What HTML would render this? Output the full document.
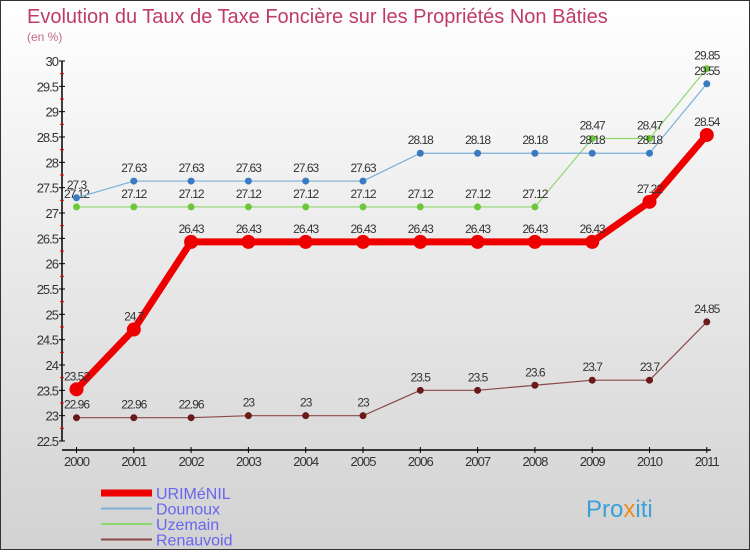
<!DOCTYPE html>
<html><head><meta charset="utf-8"><style>
body{margin:0;width:750px;height:550px;overflow:hidden;font-family:"Liberation Sans",sans-serif}
#wrap{position:relative;width:748px;height:548px;border:1px solid #333;background:linear-gradient(#ffffff,#d2d2d2)}
</style></head><body>
<div id="wrap">
<svg id="chart" width="748" height="548">
<text x="26" y="22" font-size="20" fill="#c03a6a" font-weight="300">Evolution du Taux de Taxe Foncière sur les Propriétés Non Bâties</text>
<text x="26" y="40" font-size="12" fill="#c06a8a">(en %)</text>
<g id="axes"></g><g id="series"></g><g id="legend"></g>
<text x="585" y="516" font-size="24" fill="#3aa0d8">Pro<tspan fill="#f08a20">x</tspan>iti</text>
</svg></div>
<script>
const years=[2000,2001,2002,2003,2004,2005,2006,2007,2008,2009,2010,2011];
const yTicks=[22.5,23,23.5,24,24.5,25,25.5,26,26.5,27,27.5,28,28.5,29,29.5,30];
const seriesNames=["URIMéNIL","Dounoux","Uzemain","Renauvoid"];
const urimenil=[23.52,24.7,26.43,26.43,26.43,26.43,26.43,26.43,26.43,26.43,27.22,28.54];
const dounoux=[27.3,27.63,27.63,27.63,27.63,27.63,28.18,28.18,28.18,28.18,28.18,29.55];
const uzemain=[27.12,27.12,27.12,27.12,27.12,27.12,27.12,27.12,27.12,28.47,28.47,29.85];
const renauvoid=[22.96,22.96,22.96,23,23,23,23.5,23.5,23.6,23.7,23.7,24.85];
const NS="http://www.w3.org/2000/svg";
const x=i=>75.5+i*57.3;
const y=v=>440-(v-22.5)*(380/7.5);
function mk(tag,at,parent){const e=document.createElementNS(NS,tag);for(const k in at)e.setAttribute(k,at[k]);parent.appendChild(e);return e;}
const ax=document.getElementById('axes');
let l=mk('line',{x1:61,y1:y(30),x2:61,y2:y(22.5),stroke:'#000','stroke-width':1.5},ax);


l=mk('line',{x1:61,y1:449,x2:x(11)+4,y2:449,stroke:'#000','stroke-width':1.5},ax);


yTicks.forEach(v=>{
 mk('line',{x1:58,y1:y(v),x2:64,y2:y(v),stroke:'#000'},ax);
 if(v<30)mk('line',{x1:59,y1:y(v+0.25),x2:63,y2:y(v+0.25),stroke:'#e00'},ax);
 const t=mk('text',{x:57,y:y(v)+5,'text-anchor':'end','font-size':13,fill:'#333','letter-spacing':'-1'},ax);
 t.textContent=String(v);
 
 
});
years.forEach((yr,i)=>{
 mk('line',{x1:x(i),y1:446,x2:x(i),y2:452,stroke:'#000'},ax);
 const t=mk('text',{x:x(i),y:465,'text-anchor':'middle','font-size':13,fill:'#333','letter-spacing':'-1'},ax);
 t.textContent=yr;
 
 
});
const sg=document.getElementById('series');
const defs=[[renauvoid,'#8a4a4a','#6a1a1a',1.2,3.5],[uzemain,'#8fd870','#6cc83a',1.2,3.5],[dounoux,'#7ab0d8','#3a7ac0',1.2,3.5],[urimenil,'#ee0000','#ee0000',7,7]];
const names=['renauvoid','uzemain','dounoux','urimenil'];
defs.forEach(([vals,lc,pc,w,r],k)=>{
 const g=mk('g',{},sg);
 
 
 const p=mk('polyline',{points:vals.map((v,i)=>x(i)+','+y(v)).join(' '),fill:'none',stroke:lc,'stroke-width':w,'stroke-linejoin':'round'},g);
 
 
 vals.forEach((v,i)=>{
  const c=mk('circle',{cx:x(i),cy:y(v),r:r,fill:pc},g);
  
  
  const t=mk('text',{x:x(i),y:y(v)-9,'text-anchor':'middle','font-size':12,fill:'#333','letter-spacing':'-1'},g);
  t.textContent=String(v);
  
  
 });
});
const lg=document.getElementById('legend');
const lcol=['#ee0000','#7ab0d8','#8fd870','#8a4a4a'];
seriesNames.forEach((n,i)=>{
 const yy=492+i*15.5;
 const g=mk('g',{},lg);
 
 
 mk('line',{x1:100,y1:yy,x2:151,y2:yy,stroke:lcol[i],'stroke-width':i==0?7:2},g);
 const t=mk('text',{x:155,y:yy+6,'font-size':16,fill:'#6666ee'},g);
 t.textContent=n;
 
 
});
</script>
</body></html>
